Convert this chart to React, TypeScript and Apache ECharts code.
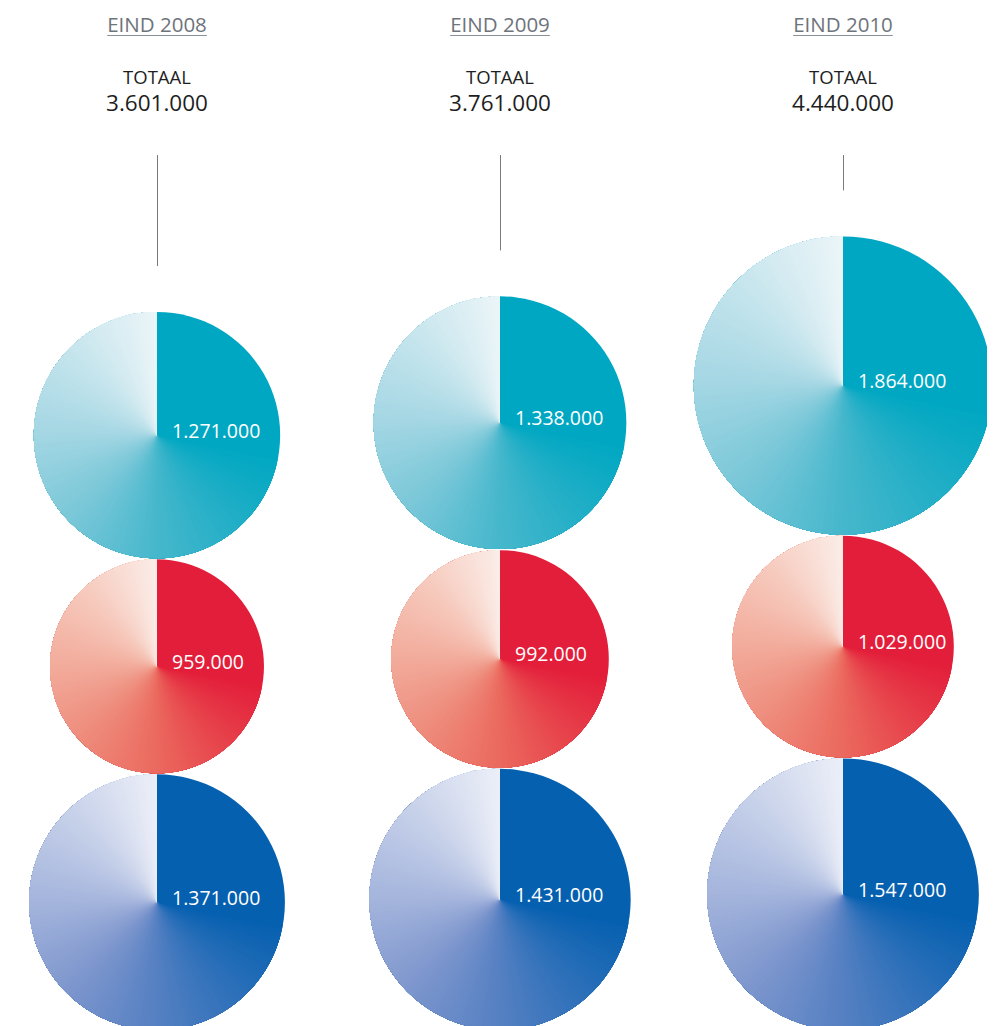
import React, { useEffect, useRef } from "react";
import * as echarts from "echarts";

const years = ["2008", "2009", "2010"];
const headerLabels = ["EIND 2008", "EIND 2009", "EIND 2010"];
const totalLabel = "TOTAAL";
const totals = [3601000, 3761000, 4440000];
const tealValues = [1271000, 1338000, 1864000];
const redValues = [959000, 992000, 1029000];
const blueValues = [1371000, 1431000, 1547000];

// conic gradient colour stops: [angle clockwise from 12 o'clock, colour]
const tealStops: [number, string][] = [[0, "#00a7c2"], [100, "#00a7c2"], [180, "#46b7cc"], [225, "#78c7d8"], [270, "#a3d6e3"], [315, "#c6e5ed"], [360, "#ebf5f8"]];
const redStops: [number, string][] = [[0, "#e31e3a"], [100, "#e31e3a"], [180, "#eb695e"], [225, "#ee8b7b"], [270, "#f2ab9b"], [315, "#f6c9bc"], [360, "#fbede8"]];
const blueStops: [number, string][] = [[0, "#0560b0"], [100, "#0560b0"], [180, "#5580c2"], [225, "#7d96cd"], [270, "#a4b4dc"], [315, "#c6d0e9"], [360, "#eceff8"]];

const FONT = '"Open Sans", "Noto Sans", sans-serif';
const GAP = 0.3;
const Y_MIN = 1.2;
const Y_MAX = 298.2;

const fmt = (v: number) => Math.round(v).toString().replace(/\B(?=(\d{3})+(?!\d))/g, ".");
const rUnits = (v: number) => Math.sqrt(v / 1000);

function stackCenters(col: number) {
  const rb = rUnits(blueValues[col]);
  const rr = rUnits(redValues[col]);
  const rt = rUnits(tealValues[col]);
  return {
    blue: rb,
    red: 2 * rb + GAP + rr,
    teal: 2 * rb + GAP + 2 * rr + GAP + rt,
  };
}

function hex2rgb(h: string) {
  const n = parseInt(h.slice(1), 16);
  return [(n >> 16) & 255, (n >> 8) & 255, n & 255];
}
function colorAt(stops: [number, string][], a: number) {
  for (let i = 1; i < stops.length; i++) {
    if (a <= stops[i][0]) {
      const [a0, c0] = stops[i - 1];
      const [a1, c1] = stops[i];
      const t = a1 === a0 ? 0 : (a - a0) / (a1 - a0);
      const p = hex2rgb(c0), q = hex2rgb(c1);
      const r = p.map((v, k) => Math.round(v + (q[k] - v) * t));
      return `rgb(${r[0]},${r[1]},${r[2]})`;
    }
  }
  return stops[stops.length - 1][1];
}

let measureCtx: CanvasRenderingContext2D | null = null;
function textWidth(text: string, font: string) {
  if (!measureCtx) measureCtx = document.createElement("canvas").getContext("2d");
  if (!measureCtx) return text.length * 10;
  measureCtx.font = font;
  return measureCtx.measureText(text).width;
}

function makeRender(stops: [number, string][], withHeader: boolean) {
  return (params: any, api: any) => {
    const col = api.value(0);
    const cyU = api.value(1);
    const rU = api.value(2);
    const val = api.value(3);
    const [px, py] = api.coord([col, cyU]);
    const rPx = api.size([0, rU])[1];
    const children: any[] = [];
    children.push({ type: "circle", shape: { cx: px, cy: py, r: rPx }, style: { fill: stops[0][1] }, silent: true });
    const startA = stops[1][0];
    const step = 2;
    for (let a = startA; a < 360; a += step) {
      children.push({
        type: "sector",
        shape: {
          cx: px, cy: py, r: rPx, r0: 0,
          startAngle: -Math.PI / 2 + (a * Math.PI) / 180,
          endAngle: -Math.PI / 2 + 2 * Math.PI,
          clockwise: true,
        },
        style: { fill: colorAt(stops, a + step / 2) },
        silent: true,
      });
    }
    children.push({
      type: "text",
      x: px + 15,
      y: py - 5,
      style: { text: fmt(val), fill: "#ffffff", fontSize: 19.5, fontFamily: FONT, align: "left", verticalAlign: "middle" },
      silent: true,
    });
    if (withHeader) {
      const idx = params.dataIndex;
      const hFont = `20.5px ${FONT}`;
      const w = textWidth(headerLabels[idx], hFont);
      children.push({
        type: "text", x: px, y: 24,
        style: { text: headerLabels[idx], fill: "#6e747b", fontSize: 20.5, fontFamily: FONT, align: "center", verticalAlign: "middle" },
        silent: true,
      });
      children.push({
        type: "line", shape: { x1: px - w / 2, y1: 35.5, x2: px + w / 2, y2: 35.5 },
        style: { stroke: "#8a9096", lineWidth: 1 }, silent: true,
      });
      children.push({
        type: "text", x: px, y: 76,
        style: { text: totalLabel, fill: "#1e1e1e", fontSize: 18.5, fontFamily: FONT, align: "center", verticalAlign: "middle" },
        silent: true,
      });
      children.push({
        type: "text", x: px, y: 102,
        style: { text: fmt(totals[idx]), fill: "#1e1e1e", fontSize: 22.5, fontFamily: FONT, align: "center", verticalAlign: "middle" },
        silent: true,
      });
      const topPx = py - rPx;
      children.push({
        type: "line", shape: { x1: Math.round(px) + 0.5, y1: 155, x2: Math.round(px) + 0.5, y2: topPx - 46 },
        style: { stroke: "#7a7a7a", lineWidth: 1 }, silent: true,
      });
    }
    return { type: "group", children };
  };
}

export default function App() {
  const ref = useRef<HTMLDivElement>(null);
  useEffect(() => {
    if (!ref.current) return;
    const chart = echarts.init(ref.current, undefined, { renderer: "svg" });
    const tealData = years.map((_, i) => [i, stackCenters(i).teal, rUnits(tealValues[i]), tealValues[i]]);
    const redData = years.map((_, i) => [i, stackCenters(i).red, rUnits(redValues[i]), redValues[i]]);
    const blueData = years.map((_, i) => [i, stackCenters(i).blue, rUnits(blueValues[i]), blueValues[i]]);
    chart.setOption({
      animation: false,
      backgroundColor: "#ffffff",
      grid: { left: 157, right: 152, top: 0, bottom: 0 },
      xAxis: { type: "value", min: 0, max: years.length - 1, show: false },
      yAxis: { type: "value", min: Y_MIN, max: Y_MAX, show: false },
      tooltip: { show: false },
      series: [
        { type: "custom", name: "teal", renderItem: makeRender(tealStops, true), data: tealData, clip: false, silent: true },
        { type: "custom", name: "red", renderItem: makeRender(redStops, false), data: redData, clip: false, silent: true },
        { type: "custom", name: "blue", renderItem: makeRender(blueStops, false), data: blueData, clip: false, silent: true },
      ],
    });
    return () => chart.dispose();
  }, []);
  return <div ref={ref} style={{ width: 995, height: 1026, margin: "-8px 0 0 -8px" }} />;
}
